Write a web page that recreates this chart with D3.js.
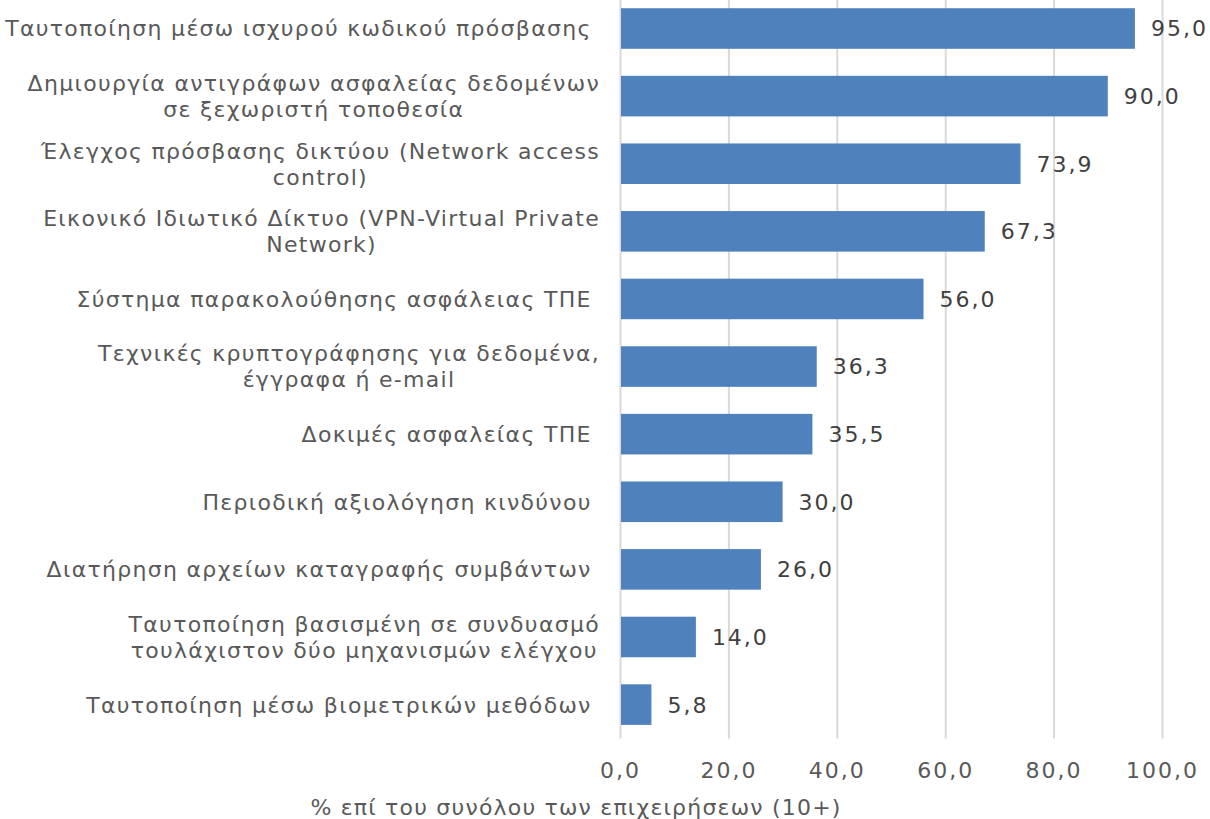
<!DOCTYPE html>
<meta charset="utf-8">
<style>
  body { margin: 0; background: #fff; }
  svg { font-family: "DejaVu Sans", Verdana, sans-serif; }
  .grid line { stroke: #d9d9d9; stroke-width: 2px; }
  .grid path { display: none; }
  .cat { fill: #595959; font-size: 22px; letter-spacing: 1.3px; }
  .val { fill: #404040; font-size: 22px; letter-spacing: 2px; }
  .tick text { fill: #595959; font-size: 22px; letter-spacing: 2px; }
  .title { fill: #595959; font-size: 22px; letter-spacing: 1.2px; }
</style>
<body>
<script src="https://d3js.org/d3.v7.min.js"></script>
<script>

// categories, top to bottom (\n marks a line break)
var categories = [
  "Ταυτοποίηση μέσω ισχυρού κωδικού πρόσβασης ",
  "Δημιουργία αντιγράφων ασφαλείας δεδομένων\nσε ξεχωριστή τοποθεσία",
  "Έλεγχος πρόσβασης δικτύου (Network access\ncontrol)",
  "Εικονικό Ιδιωτικό Δίκτυο (VPN-Virtual Private\nNetwork)",
  "Σύστημα παρακολούθησης ασφάλειας ΤΠΕ ",
  "Τεχνικές κρυπτογράφησης για δεδομένα,\nέγγραφα ή e-mail",
  "Δοκιμές ασφαλείας ΤΠΕ ",
  "Περιοδική αξιολόγηση κινδύνου ",
  "Διατήρηση αρχείων καταγραφής συμβάντων ",
  "Ταυτοποίηση βασισμένη σε συνδυασμό\nτουλάχιστον δύο μηχανισμών ελέγχου",
  "Ταυτοποίηση μέσω βιομετρικών μεθόδων "
];
var values = [95.0, 90.0, 73.9, 67.3, 56.0, 36.3, 35.5, 30.0, 26.0, 14.0, 5.8];
var xTicks = [0, 20, 40, 60, 80, 100];
var xTitle = "% επί του συνόλου των επιχειρήσεων (10+)";

var W = 1210, H = 819;
var plotL = 620, plotR = 1162, plotT = -5.3, plotB = 738.4;

var fmt = function(v) { return d3.format(".1f")(v).replace(".", ","); };

var svg = d3.select("body").append("svg")
    .attr("width", W)
    .attr("height", H);

var x = d3.scaleLinear().domain([0, 100]).range([plotL, plotR]);
var y = d3.scaleBand().domain(d3.range(categories.length))
    .range([plotT, plotB]).paddingInner(0.4).paddingOuter(0.2);

// gridlines
svg.append("g")
    .attr("class", "grid")
    .attr("transform", "translate(0," + plotB + ")")
    .call(d3.axisBottom(x).tickValues(xTicks).tickSize(-plotB).tickFormat(""));

// bars
svg.selectAll("rect.bar")
    .data(values)
  .enter().append("rect")
    .attr("class", "bar")
    .attr("x", x(0) + 1)
    .attr("y", function(d, i) { return y(i); })
    .attr("width", function(d) { return x(d) - x(0) - 1; })
    .attr("height", y.bandwidth())
    .attr("fill", "#4f81bd");

// value labels
svg.selectAll("text.val")
    .data(values)
  .enter().append("text")
    .attr("class", "val")
    .attr("x", function(d) { return x(d) + 16; })
    .attr("y", function(d, i) { return y(i) + y.bandwidth() / 2; })
    .attr("dy", "0.36em")
    .text(fmt);

// x tick labels
var xa = svg.append("g")
    .attr("transform", "translate(0," + plotB + ")")
    .call(d3.axisBottom(x).tickValues(xTicks).tickSize(0).tickPadding(24).tickFormat(fmt));
xa.select(".domain").remove();
xa.attr("font-family", null).attr("font-size", null);

// category labels, each block centred, right edge near 600
var lineH = 26;
categories.forEach(function(c, i) {
  var lines = c.split("\n");
  var cy = y(i) + y.bandwidth() / 2;
  var g = svg.append("g");
  var t = g.selectAll("text").data(lines).enter().append("text")
      .attr("class", "cat")
      .attr("xml:space", "preserve")
      .style("white-space", "pre")
      .attr("text-anchor", "middle")
      .attr("y", function(d, k) { return cy + (k - (lines.length - 1) / 2) * lineH; })
      .attr("dy", "0.36em")
      .text(function(d) { return d; });
  var wMax = d3.max(t.nodes(), function(n) { return n.getComputedTextLength(); });
  t.attr("x", 600 - wMax / 2);
});

// axis title
svg.append("text")
    .attr("class", "title")
    .attr("x", 576)
    .attr("y", 807)
    .attr("dy", "0.36em")
    .attr("text-anchor", "middle")
    .text(xTitle);

</script>
</body>
